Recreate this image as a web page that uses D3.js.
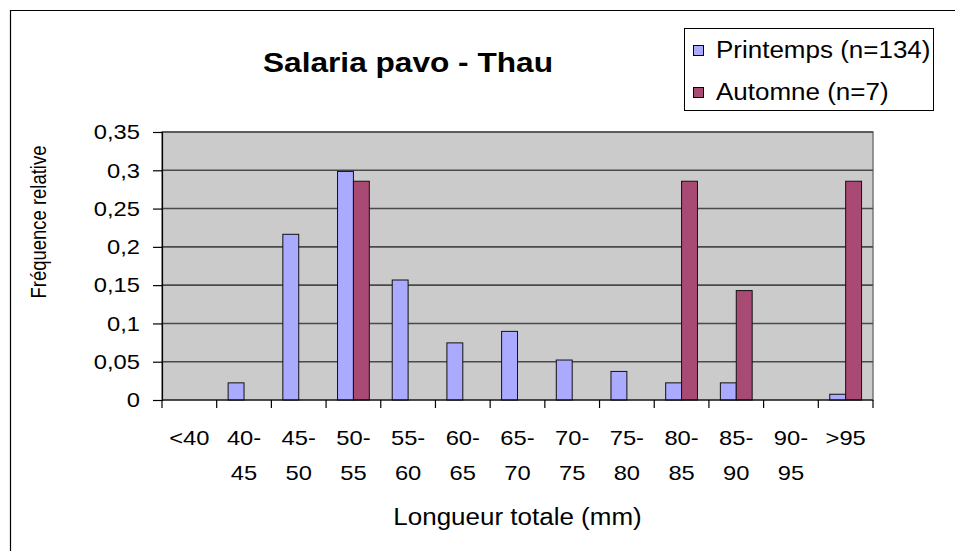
<!DOCTYPE html>
<html>
<head>
<meta charset="utf-8">
<script src="https://cdn.jsdelivr.net/npm/d3@7"></script>
<style>
  body { margin: 0; background: #fff; }
  text { font-family: "Liberation Sans", Arial, sans-serif; }
</style>
</head>
<body>
<script>
// data
const categories = ["<40", "40-45", "45-50", "50-55", "55-60", "60-65", "65-70", "70-75", "75-80", "80-85", "85-90", "90-95", ">95"];
const printemps = [0, 0.0224, 0.2164, 0.2985, 0.1567, 0.0746, 0.0896, 0.0522, 0.0373, 0.0224, 0.0224, 0, 0.0075];
const automne = [0, 0, 0, 0.2857, 0, 0, 0, 0, 0, 0.2857, 0.1429, 0, 0.2857];
const seriesNames = ["Printemps (n=134)", "Automne (n=7)"];
const yTicks = [0, 0.05, 0.1, 0.15, 0.2, 0.25, 0.3, 0.35];

const W = 955, H = 551;
const plot = {left: 162, top: 132, right: 873, bottom: 400};
const colors = ["#aaaaff", "#a94a74"];
const sx = 1.13; // the text in the reference is a bit wider than the font

const svg = d3.select("body").append("svg")
  .attr("width", W).attr("height", H);

// stretch text horizontally, keeping its anchor point in place
function stretch(sel, k) {
  sel.each(function() {
    const t = d3.select(this);
    const ax = +(t.attr("x") || t.select("tspan").attr("x") || 0);
    t.attr("transform", "translate(" + (ax * (1 - k)) + ",0) scale(" + k + ",1)");
  });
}

// outer chart frame (only left + top visible)
svg.append("path").attr("d", "M10.5," + H + "V10.5H" + W)
  .attr("fill", "none").attr("stroke", "#000").attr("stroke-width", 1.2);

const x = d3.scaleBand().domain(categories).range([plot.left, plot.right]).padding(0);
const xs = d3.scaleBand().domain([0, 1]).range([0, x.bandwidth()]).paddingInner(0).paddingOuter(0.72);
const y = d3.scaleLinear().domain([0, 0.35]).range([plot.bottom, plot.top]);

// plot background
svg.append("rect")
  .attr("x", plot.left).attr("y", plot.top)
  .attr("width", plot.right - plot.left).attr("height", plot.bottom - plot.top)
  .attr("fill", "#cbcbcb").attr("stroke", "#777").attr("stroke-width", 1.5);

// gridlines
svg.append("g").selectAll("line").data(yTicks.filter(d => d > 0)).join("line")
  .attr("x1", plot.left).attr("x2", plot.right)
  .attr("y1", d => y(d)).attr("y2", d => y(d))
  .attr("stroke", "#4a4a4a").attr("stroke-width", 1.6);

// bars
const series = [printemps, automne];
series.forEach(function(vals, s) {
  svg.append("g").selectAll("rect").data(vals.map((v, i) => ({v: v, c: categories[i]})).filter(d => d.v > 0))
    .join("rect")
    .attr("x", d => x(d.c) + xs(s))
    .attr("y", d => y(d.v))
    .attr("width", xs.bandwidth())
    .attr("height", d => y(0) - y(d.v))
    .attr("fill", colors[s])
    .attr("stroke", "#111").attr("stroke-width", 1);
});

// y axis
const fmt = d => String(+d.toFixed(2)).replace(".", ",");
const yAxis = svg.append("g").attr("transform", "translate(" + plot.left + ",0)")
  .call(d3.axisLeft(y).tickValues(yTicks).tickFormat(fmt).tickSize(9).tickPadding(13));
yAxis.select(".domain").attr("stroke", "#000").attr("stroke-width", 1.2);
yAxis.selectAll(".tick line").attr("stroke", "#000").attr("stroke-width", 1.2);
yAxis.selectAll("text").attr("font-size", 21).attr("fill", "#000")
  .attr("font-family", "Liberation Sans, Arial, sans-serif").call(stretch, sx);

// x axis: ticks on category boundaries
const xAxisG = svg.append("g");
xAxisG.append("line").attr("x1", plot.left).attr("x2", plot.right)
  .attr("y1", plot.bottom).attr("y2", plot.bottom)
  .attr("stroke", "#000").attr("stroke-width", 1.2);
xAxisG.selectAll(".tk").data(categories.concat(["end"])).join("line")
  .attr("x1", (d, i) => plot.left + i * x.step()).attr("x2", (d, i) => plot.left + i * x.step())
  .attr("y1", plot.bottom).attr("y2", plot.bottom + 8)
  .attr("stroke", "#000").attr("stroke-width", 1.2);

const lbl = xAxisG.selectAll(".lbl").data(categories).join("text")
  .attr("text-anchor", "middle").attr("font-size", 21).attr("fill", "#000");
lbl.each(function(d) {
  const parts = d.indexOf("-") > 0 ? [d.split("-")[0] + "-", d.split("-")[1]] : [d];
  const t = d3.select(this);
  parts.forEach(function(p, k) {
    t.append("tspan").attr("x", x(d) + x.bandwidth() / 2).attr("y", 445 + k * 35).text(p);
  });
});
lbl.call(stretch, sx);

// titles
svg.append("text").attr("x", 408).attr("y", 72).attr("text-anchor", "middle")
  .attr("font-size", 28).attr("font-weight", "bold").text("Salaria pavo - Thau").call(stretch, sx);

svg.append("text").attr("x", (plot.left + plot.right) / 2).attr("y", 525)
  .attr("text-anchor", "middle").attr("font-size", 23).text("Longueur totale (mm)").call(stretch, sx);

svg.append("text").attr("transform", "translate(46,222) scale(1.08,0.88) rotate(-90)")
  .attr("text-anchor", "middle").attr("font-size", 21).text("Fréquence relative");

// legend
const leg = svg.append("g");
leg.append("rect").attr("x", 684.5).attr("y", 28.5).attr("width", 249).attr("height", 82)
  .attr("fill", "#fff").attr("stroke", "#000").attr("stroke-width", 1);
seriesNames.forEach(function(name, i) {
  leg.append("rect").attr("x", 693.5).attr("y", 45.5 + i * 42).attr("width", 10).attr("height", 10)
    .attr("fill", colors[i]).attr("stroke", "#000").attr("stroke-width", 1);
  leg.append("text").attr("x", 716).attr("y", 58 + i * 42).attr("font-size", 23).text(name).call(stretch, sx);
});
</script>
</body>
</html>
